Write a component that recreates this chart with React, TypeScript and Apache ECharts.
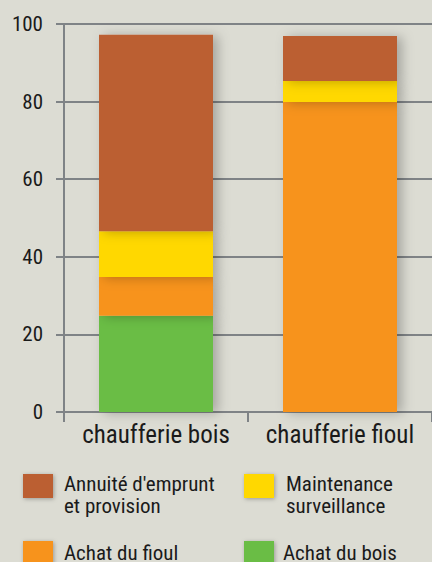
import React, { useEffect, useRef } from "react";
import * as echarts from "echarts";

const categories = ["chaufferie bois", "chaufferie fioul"];
const yTicks = [0, 20, 40, 60, 80, 100];

// stacked from bottom to top
const achatBois = [24.8, 0];
const achatFioul = [10, 79.9];
const maintenance = [11.8, 5.4];
const annuite = [50.6, 11.6];

const seriesNames = [
  "Achat du bois",
  "Achat du fioul",
  "Maintenance\nsurveillance",
  "Annuité d'emprunt\net provision",
];
const seriesColors = ["#6abd45", "#f7931e", "#ffd800", "#bb5e32"];
const seriesData = [achatBois, achatFioul, maintenance, annuite];

// legend order as displayed (row by row)
const legendOrder = [3, 2, 1, 0];

export default function App() {
  const ref = useRef<HTMLDivElement>(null);
  useEffect(() => {
    if (!ref.current) return;
    const chart = echarts.init(ref.current, null, { renderer: "svg" });
    const font = "'Roboto Condensed', Roboto, sans-serif";
    const lineColor = "#7f8386";
    const legendPos = [
      { x: 23, y: 474, tx: 64 },
      { x: 244, y: 474, tx: 286 },
      { x: 23, y: 541, tx: 64 },
      { x: 244, y: 541, tx: 283 },
    ];
    const graphics: any[] = [];
    legendOrder.forEach((si, i) => {
      const p = legendPos[i];
      graphics.push({
        type: "rect",
        left: p.x,
        top: p.y,
        shape: { width: 30, height: 24 },
        style: {
          fill: seriesColors[si],
          shadowBlur: 4,
          shadowColor: "rgba(0,0,0,0.3)",
          shadowOffsetX: 1,
          shadowOffsetY: 1,
        },
      });
      const multi = seriesNames[si].includes("\n");
      graphics.push({
        type: "text",
        left: p.tx,
        top: multi ? p.y - 1 : p.y + 1,
        style: {
          text: seriesNames[si],
          fill: "#1a1a1a",
          font: `21px ${font}`,
          lineHeight: 22,
        },
      });
    });

    chart.setOption({
      animation: false,
      backgroundColor: "#dcdcd3",
      grid: { left: 64, top: 24, width: 370, height: 388 },
      xAxis: {
        type: "category",
        data: categories,
        axisLine: { show: true, lineStyle: { color: lineColor, width: 2 } },
        axisTick: {
          show: true,
          length: 10,
          interval: 0,
          alignWithLabel: false,
          lineStyle: { color: lineColor, width: 2 },
        },
        axisLabel: {
          interval: 0,
          margin: 10,
          fontSize: 25,
          fontFamily: font,
          color: "#1a1a1a",
        },
      },
      yAxis: {
        type: "value",
        min: 0,
        max: 100,
        interval: 20,
        axisLine: { show: true, lineStyle: { color: lineColor, width: 2 } },
        axisTick: { show: true, length: 8, lineStyle: { color: lineColor, width: 2 } },
        splitLine: { show: true, lineStyle: { color: lineColor, width: 2 } },
        axisLabel: {
          margin: 21,
          fontSize: 21,
          fontFamily: font,
          color: "#1a1a1a",
          formatter: (v: number) => (yTicks.includes(v) ? String(v) : ""),
        },
      },
      series: seriesData.map((d, i) => ({
        type: "bar",
        name: seriesNames[i],
        stack: "total",
        data: d,
        barWidth: 114,
        itemStyle: {
          color: seriesColors[i],
          shadowBlur: 12,
          shadowColor: "rgba(0,0,0,0.25)",
          shadowOffsetX: 5,
          shadowOffsetY: 1,
        },
      })),
      graphic: graphics,
    });
    return () => chart.dispose();
  }, []);
  return (
    <div
      ref={ref}
      style={{ position: "fixed", left: 0, top: 0, width: 432, height: 562 }}
    />
  );
}
